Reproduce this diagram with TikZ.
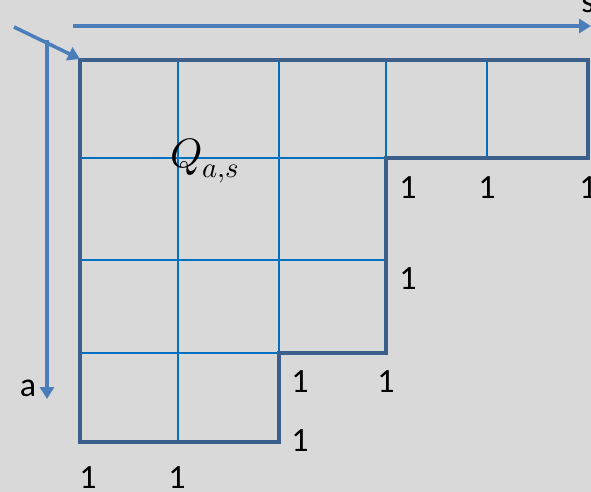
\documentclass[tikz,border=0pt]{standalone}
\usepackage{fontspec}
\setmainfont{Carlito}
\usepackage{unicode-math}
\setmathfont{Latin Modern Math}
\usetikzlibrary{arrows.meta}
\definecolor{bg}{HTML}{D9D9D9}
\definecolor{outline}{HTML}{3C5F8C}
\definecolor{gridc}{HTML}{0070C0}
\definecolor{arrowc}{HTML}{4A7EBB}
\tikzset{
  outer/.style={draw=outline, line width=4pt, line join=miter},
  gridl/.style={draw=gridc, line width=1.6pt},
  axis/.style={draw=arrowc, line width=3.5pt, -{Triangle[length=12pt,width=14pt]}},
  lbl/.style={font=\fontsize{34}{40}\selectfont, inner sep=0pt, text=black},
}
\begin{document}
\begin{tikzpicture}[x=1pt,y=-1pt]
\fill[bg] (0,0) rectangle (591,492);
\useasboundingbox (0,0) rectangle (591,492);
% grid lines
\draw[gridl] (178,60) -- (178,442);
\draw[gridl] (279,60) -- (279,353);
\draw[gridl] (386,60) -- (386,158);
\draw[gridl] (487,60) -- (487,158);
\draw[gridl] (80,158) -- (386,158);
\draw[gridl] (80,260) -- (386,260);
\draw[gridl] (80,353) -- (279,353);
% outline
\draw[outer] (80,60) -- (588,60) -- (588,158) -- (386,158) -- (386,353) -- (279,353) -- (279,442) -- (80,442) -- cycle;
% axes
\coordinate (sS) at (73,26);
\coordinate (sE) at (591,26);
\coordinate (aS) at (47,40);
\coordinate (aE) at (47,399);
\coordinate (dS) at (14,27);
\coordinate (dE) at (80,59);
\draw[axis] (sS) -- (sE);
\draw[axis] (aS) -- (aE);
\draw[axis] (dS) -- (dE);
\node[lbl] (s) at (588,4) {s};
\node[lbl] (a) at (28,388) {a};
% Q label
\node[inner sep=0pt, font=\fontsize{41}{44}\selectfont] (q) at (205,161) {$Q_{a,s}$};
% ones
\node[lbl] (o1) at (408,188) {1};
\node[lbl] (o2) at (487,188) {1};
\node[lbl] (o3) at (588,188) {1};
\node[lbl] (o4) at (408,279) {1};
\node[lbl] (o5) at (300,382) {1};
\node[lbl] (o6) at (386,382) {1};
\node[lbl] (o7) at (300,441) {1};
\node[lbl] (o8) at (88,478) {1};
\node[lbl] (o9) at (177,478) {1};
\end{tikzpicture}
\end{document}
